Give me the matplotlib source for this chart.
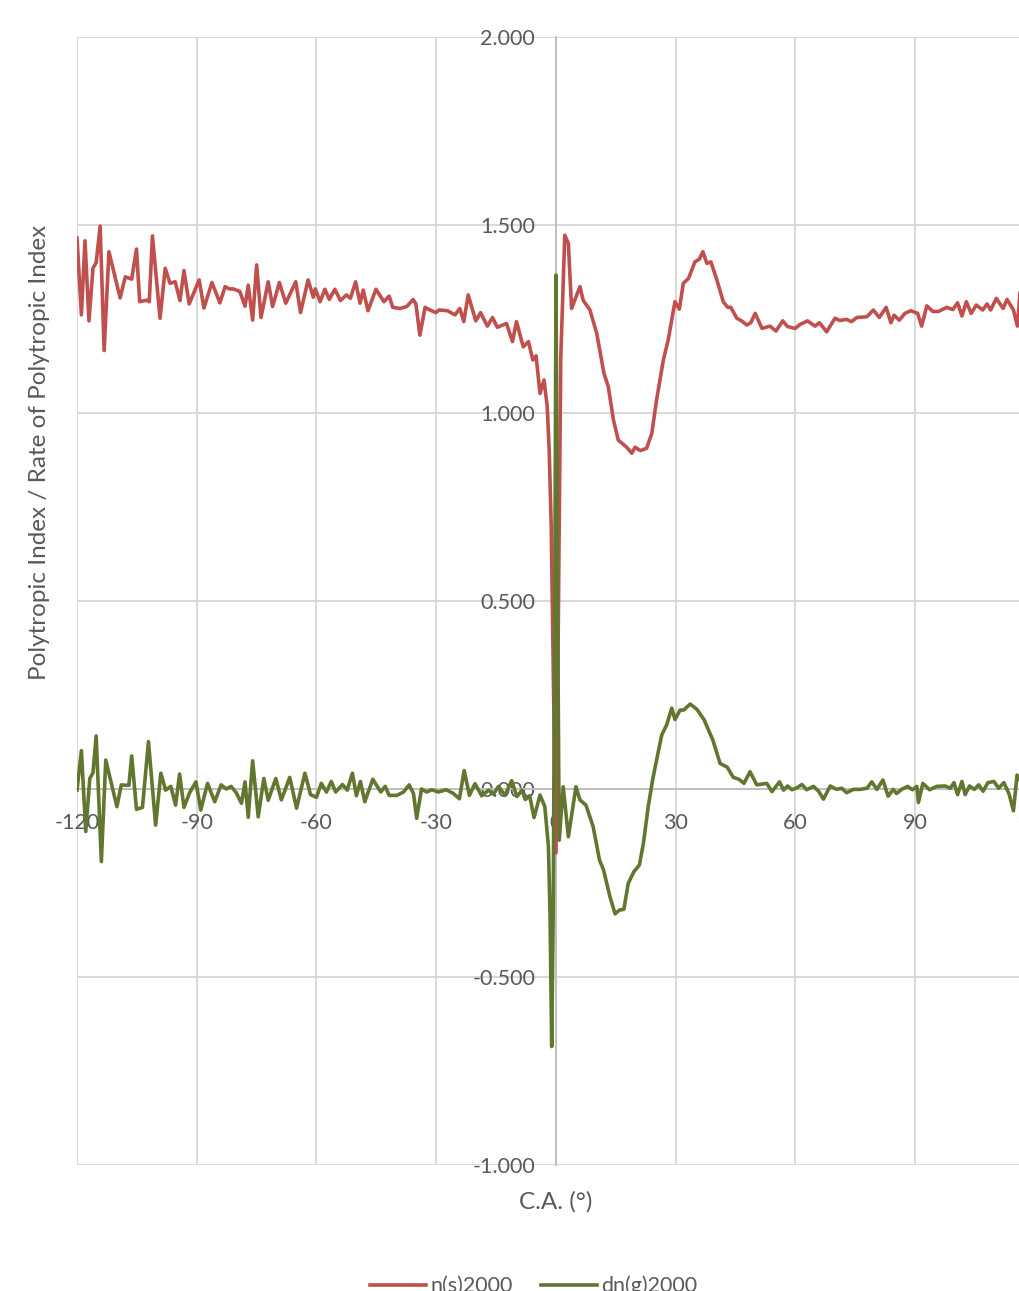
import matplotlib
matplotlib.use("Agg")
import matplotlib.pyplot as plt
from matplotlib.ticker import FuncFormatter, MultipleLocator

ns_x = [-120,-118.9,-118,-117,-116,-115.2,-114.2,-113.2,-112,-110.7,-109.2,-107.9,-106.3,-105.1,-104.3,-102.6,-101.9,-101.1,-99.2,-97.9,-96.7,-95.4,-94.2,-93.2,-91.9,-89.4,-88.2,-86.2,-84.2,-82.9,-81.8,-80.8,-79.2,-77.9,-77.1,-76,-75,-73.9,-72.1,-71,-69.3,-67.7,-65.2,-64,-62.1,-60.8,-60.3,-59.1,-57.9,-56.8,-55.4,-54,-52.5,-51.5,-50.2,-49.1,-48.3,-47.1,-45.1,-43.1,-41.8,-40.9,-39.1,-37.4,-35.8,-35.1,-34.1,-32.8,-31.6,-30.1,-29.3,-27.2,-25.3,-24.1,-23.1,-22,-20.1,-18.9,-17.2,-15.9,-14.7,-12.4,-10.9,-9.9,-8.2,-6.9,-5.8,-5,-4,-3,-2.2,-1.7,-1.2,-0.6,0,0.5,1.2,2.2,3.1,3.9,4.7,6.0,6.8,8.5,10.2,12,13.1,14.4,15.6,17.7,19,19.8,21.1,22.7,24,25.2,26.9,28.1,29.8,30.9,31.9,33.2,34.8,35.9,36.8,37.8,38.8,40.3,41.9,43,43.8,45.3,46.5,47.8,48.8,49.9,51.6,53.6,55.1,56.8,58,59.9,61.2,63,64.9,66,67.8,69.9,71.1,72.8,74,75.4,77.9,79.5,81,82.7,83.9,84.7,86,87.4,88.9,90.6,91.6,92.9,94.4,95.8,97.9,99.4,100.6,101.7,102.8,104,105.3,106.9,108,108.9,110.3,112,113,114.6,115.6,116.3,117.5,118.5,120]
ns_y = [1.465,1.261,1.458,1.245,1.385,1.40,1.497,1.166,1.429,1.372,1.306,1.362,1.356,1.436,1.296,1.30,1.296,1.471,1.252,1.385,1.345,1.349,1.299,1.379,1.29,1.354,1.279,1.347,1.293,1.336,1.33,1.33,1.323,1.284,1.34,1.247,1.394,1.254,1.349,1.283,1.347,1.292,1.349,1.267,1.354,1.308,1.33,1.296,1.329,1.302,1.329,1.299,1.314,1.305,1.349,1.292,1.327,1.272,1.329,1.296,1.311,1.281,1.278,1.283,1.302,1.29,1.207,1.281,1.274,1.267,1.274,1.272,1.261,1.278,1.243,1.314,1.245,1.267,1.231,1.254,1.228,1.238,1.19,1.243,1.176,1.19,1.141,1.152,1.052,1.088,1.017,0.90,0.70,0.25,-0.17,0.35,1.15,1.473,1.451,1.278,1.30,1.336,1.30,1.274,1.212,1.106,1.07,0.981,0.928,0.909,0.893,0.909,0.90,0.906,0.946,1.035,1.141,1.194,1.296,1.276,1.345,1.358,1.402,1.409,1.429,1.398,1.402,1.354,1.296,1.281,1.281,1.252,1.245,1.234,1.24,1.265,1.225,1.231,1.218,1.245,1.23,1.225,1.236,1.245,1.231,1.24,1.216,1.252,1.246,1.249,1.243,1.254,1.256,1.274,1.254,1.281,1.24,1.26,1.247,1.265,1.272,1.265,1.231,1.285,1.27,1.27,1.281,1.275,1.293,1.258,1.296,1.265,1.287,1.274,1.29,1.274,1.305,1.278,1.302,1.274,1.231,1.327,1.30,1.27,1.28]

dng_x = [-120,-118.9,-117.8,-116.8,-116,-115.2,-113.9,-112.8,-111.4,-110,-108.9,-107.7,-107,-106.3,-105.1,-103.6,-102.1,-100.3,-99,-97.8,-96.5,-95.3,-94.3,-93.2,-91.8,-90.2,-89,-87.3,-85.5,-83.9,-82.6,-81.4,-80.1,-78.8,-77.9,-77.1,-76,-74.6,-73.2,-72.1,-70.2,-68.8,-66.7,-65,-62.9,-61.5,-60,-58.8,-57.5,-56.3,-55.2,-53.5,-52.3,-51,-50,-49,-47.9,-45.9,-43.9,-42.8,-41.8,-39.9,-38.2,-36.8,-35.7,-34.9,-33.7,-32.4,-31.1,-29.5,-27.5,-25.7,-24.2,-23,-21.7,-20.3,-18.6,-16.9,-15.7,-14.4,-12.8,-11.1,-9.8,-8.5,-7.7,-6.6,-5.5,-4,-2.8,-1.9,-1.5,-1.08,-0.7,-0.3,0,0.4,0.8,1.8,3.1,5,6,7.5,9.3,10.9,11.9,13.5,14.8,15.9,17,18.1,19.5,20.9,21.9,23.1,24.2,25.2,26.5,27.7,29,29.8,31.1,32,33.6,35.3,37.1,39.3,41.1,42.9,44.4,45.8,47.1,48.6,50.3,52.8,54.1,56,57,58,59.1,60.3,61.6,62.8,64.5,65.8,67,68.7,70.3,71.6,72.8,74.5,76.2,77.9,79.1,80.4,81.9,83.2,84.5,85.3,86.6,88.1,89.3,90.4,90.8,91.9,93.6,95.4,97.5,98.8,99.7,100.6,101.7,102.5,103.6,104.8,105.9,107,108.2,109.7,110.9,112.2,113.5,114.6,115.5,117,118.2,119.2,120]
dng_y = [-0.003,0.102,-0.113,0.028,0.043,0.141,-0.193,0.077,0.015,-0.047,0.011,0.01,0.01,0.088,-0.054,-0.049,0.126,-0.096,0.042,-0.003,0.007,-0.043,0.04,-0.049,-0.01,0.019,-0.056,0.015,-0.034,0.011,0.0,0.007,-0.01,-0.038,0.019,-0.075,0.075,-0.074,0.028,-0.03,0.028,-0.029,0.031,-0.051,0.042,-0.015,-0.022,0.015,-0.008,0.02,-0.008,0.012,-0.003,0.042,-0.018,0.02,-0.034,0.026,-0.008,0.007,-0.017,-0.017,-0.008,0.011,-0.012,-0.078,0.0,-0.008,-0.002,-0.008,-0.002,-0.012,-0.026,0.049,-0.017,0.014,-0.018,-0.003,-0.014,0.007,-0.017,0.022,-0.02,-0.003,-0.028,-0.018,-0.076,-0.016,-0.047,-0.153,-0.33,-0.685,-0.33,0.5,1.367,0.5,-0.136,0.006,-0.127,0.006,-0.029,-0.043,-0.1,-0.189,-0.215,-0.286,-0.332,-0.322,-0.32,-0.251,-0.22,-0.202,-0.144,-0.047,0.024,0.077,0.144,0.17,0.215,0.185,0.21,0.21,0.226,0.212,0.184,0.13,0.068,0.058,0.031,0.026,0.015,0.046,0.011,0.015,-0.007,0.019,-0.003,0.008,-0.002,0.003,0.012,-0.002,0.007,-0.006,-0.027,0.008,-0.001,0.002,-0.01,-0.001,-0.001,0.002,0.019,-0.001,0.024,-0.019,-0.001,-0.012,-0.001,0.007,-0.002,0.007,-0.036,0.015,-0.002,0.007,0.008,0.002,0.017,-0.015,0.02,-0.015,0.008,-0.001,0.011,-0.006,0.017,0.02,0.002,0.017,-0.013,-0.058,0.037,0.01,-0.01,0.005,0.0]

series_names = ["n(s)2000", "dn(g)2000"]
x_title = "C.A. (°)"
y_title = "Polytropic Index / Rate of Polytropic Index"

TXT = "#595959"
plt.rcParams['font.family'] = ['Lato', 'DejaVu Sans']

fig = plt.figure(figsize=(10.2, 12.91), dpi=100)
ax = fig.add_axes([77/1020, 1-1165/1291, (1035-77)/1020, (1165-37)/1291])

ax.set_xlim(-120, 120)
ax.set_ylim(-1.0, 2.0)
ax.xaxis.set_major_locator(MultipleLocator(30))
ax.yaxis.set_major_locator(MultipleLocator(0.5))
ax.grid(True, color="#d9d9d9", lw=1.4)
ax.set_axisbelow(True)

for s in ['top', 'right']:
    ax.spines[s].set_visible(False)
ax.spines['left'].set_position(('data', 0))
ax.spines['bottom'].set_position(('data', 0))
for s in ['left', 'bottom']:
    ax.spines[s].set_color("#bfbfbf")
    ax.spines[s].set_linewidth(1.4)
    ax.spines[s].set_zorder(1)

ax.yaxis.set_major_formatter(FuncFormatter(lambda v, p: f"{v:.3f}".replace("\u2212", "-")))
ax.xaxis.set_major_formatter(FuncFormatter(lambda v, p: f"{int(round(v))}"))
ax.tick_params(axis='both', length=0, labelsize=15.5, colors=TXT)
ax.tick_params(axis='y', pad=15)
ax.tick_params(axis='x', pad=17)

l1, = ax.plot(ns_x, ns_y, color="#c0504d", lw=2.6, solid_joinstyle='round', label=series_names[0], zorder=3)
l2, = ax.plot(dng_x, dng_y, color="#61772f", lw=2.6, solid_joinstyle='round', label=series_names[1], zorder=4)

fig.text(40/1020, 1-452/1291, y_title, rotation=90, ha='center', va='center', fontsize=17.5, color=TXT)
fig.text(556/1020, 1-1202/1291, x_title, ha='center', va='center', fontsize=17.5, color=TXT)

fig.legend(handles=[l1, l2], loc='center', bbox_to_anchor=(534/1020, 1-1286/1291), ncol=2,
           frameon=False, fontsize=15.5, labelcolor=TXT, handlelength=2.6, handletextpad=0.2,
           columnspacing=1.3)

fig.savefig("out.png", dpi=100)
